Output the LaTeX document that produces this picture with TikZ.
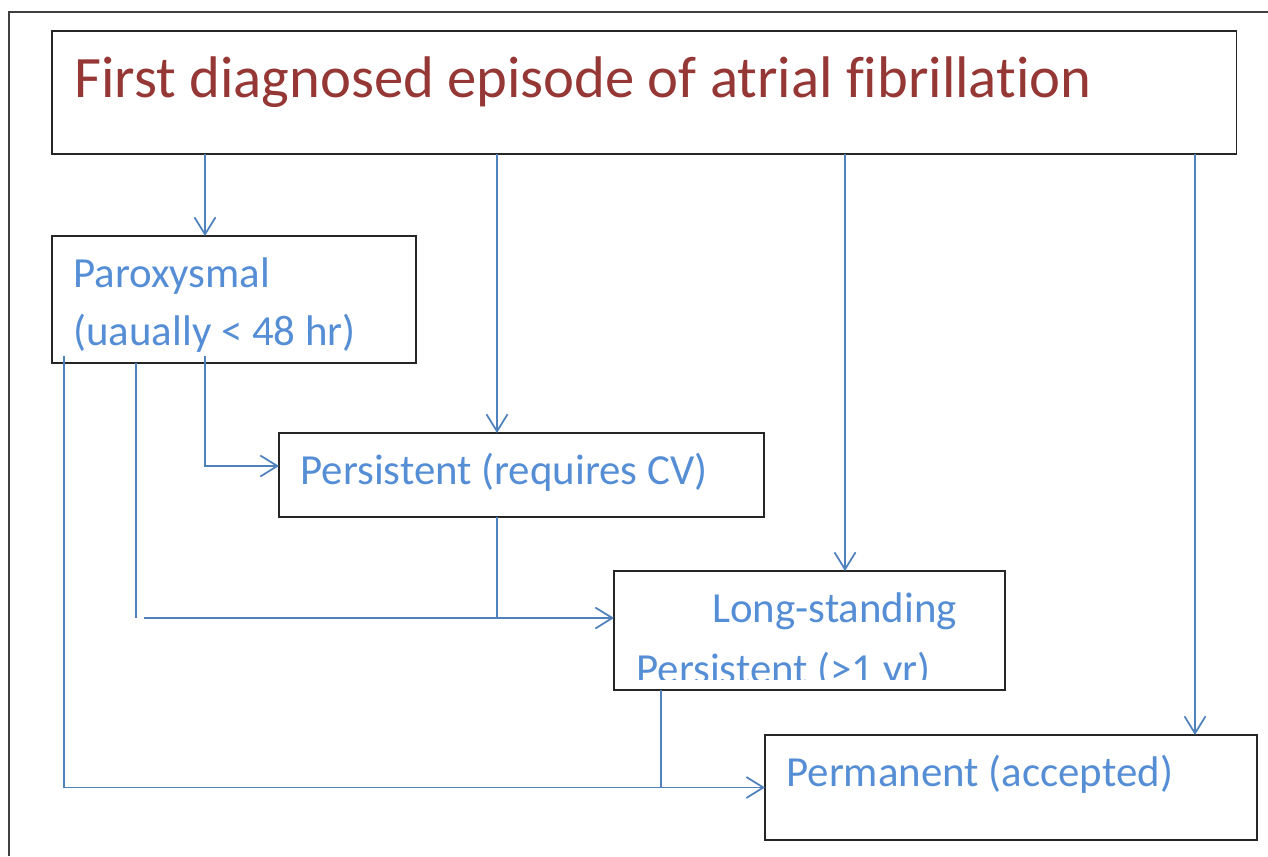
\documentclass[tikz,border=0pt]{standalone}
\usepackage{fontspec}
\setmainfont{Carlito}[Ligatures=NoCommon]
\usetikzlibrary{positioning}
\usetikzlibrary{calc}
\usetikzlibrary{arrows.meta}
\definecolor{afred}{HTML}{953735}
\definecolor{afblue}{HTML}{4F81BD}
\definecolor{aftext}{HTML}{558ED5}
\tikzset{
box/.style={
  draw=black!85,
  line width=0.7pt,
  inner sep=0pt,
  outer sep=0pt,
  anchor=north west
  },
lbl/.style={
  inner sep=0pt,
  anchor=base west,
  text=aftext,
  font=\fontsize{24.4}{28}\selectfont
  },
ttl/.style={
  inner sep=0pt,
  anchor=base west,
  text=afred,
  font=\fontsize{33.4}{40}\selectfont
  },
link/.style={
  draw=afblue,
  line width=1pt
  }
}

\begin{document}
\begin{tikzpicture}[x=0.02cm,y=-0.02cm,>={Straight Barb[length=0.34cm,width=0.42cm]},line join=miter]
            \useasboundingbox (0,0) rectangle (1268,856);
            % outer frame
            \draw[draw=black!75,line width=0.75pt] (9,856) -- (9,12) -- (1268,12);
            % boxes
            \node[box,minimum width=23.70cm,minimum height=2.46cm] (first) at (52,31) {};
            \node[box,minimum width=7.28cm,minimum height=2.54cm]  (parox) at (52,236) {};
            \node[box,minimum width=9.70cm,minimum height=1.68cm]  (pers)  at (279,433) {};
            \node[box,minimum width=7.82cm,minimum height=2.38cm]  (long)  at (614,571) {};
            \node[box,minimum width=9.84cm,minimum height=2.10cm]  (perm)  at (765,735) {};
            % texts
            \node[ttl] (tfirst)  at (74,97)  {First diagnosed episode of atrial fibrillation};
            \node[lbl] (tparoxa) at (73,287) {Paroxysmal};
            \node[lbl] (tparoxb) at (73,345) {(uaually < 48 hr)};
            \node[lbl] (tpers)   at (300,484) {Persistent (requires CV)};
            \node[lbl] (tlonga)  at (712,622) {Long-standing};
            \begin{scope}
            \clip (614,571) rectangle (1005,679);
            \node[lbl] (tlongb)  at (636,683) {Persistent (>1 yr)};
            \end{scope}
            \node[lbl] (tperm)   at (786,786) {Permanent (accepted)};
            % columns and rows of the connectors
            \coordinate (xa) at (205,0);
            \coordinate (xb) at (497,0);
            \coordinate (xc) at (845,0);
            \coordinate (xd) at (1195,0);
            \coordinate (xe) at (136,0);
            \coordinate (xf) at (64,0);
            \coordinate (xg) at (661,0);
            \coordinate (ya) at (0,466);
            \coordinate (gap) at (144,618);
            % connectors
            \draw[link,->] (first.south -| xa) -- (parox.north -| xa);
            \draw[link,->] (first.south -| xb) -- (pers.north -| xb);
            \draw[link,->] (first.south -| xc) -- (long.north -| xc);
            \draw[link,->] (first.south -| xd) -- (perm.north -| xd);
            \draw[link,->] ([yshift=0.14cm]parox.south -| xa) |- (pers.west |- ya);
            \draw[link] (parox.south -| xe) -- (xe |- gap);
            \draw[link,->] (gap) -- (long.west |- gap);
            \draw[link] (pers.south -| xb) -- (xb |- gap);
            \draw[link,->] ([yshift=0.14cm]parox.south -| xf) |- (perm.west);
            \draw[link] (long.south -| xg) -- (xg |- perm.west);
\end{tikzpicture}
\end{document}
